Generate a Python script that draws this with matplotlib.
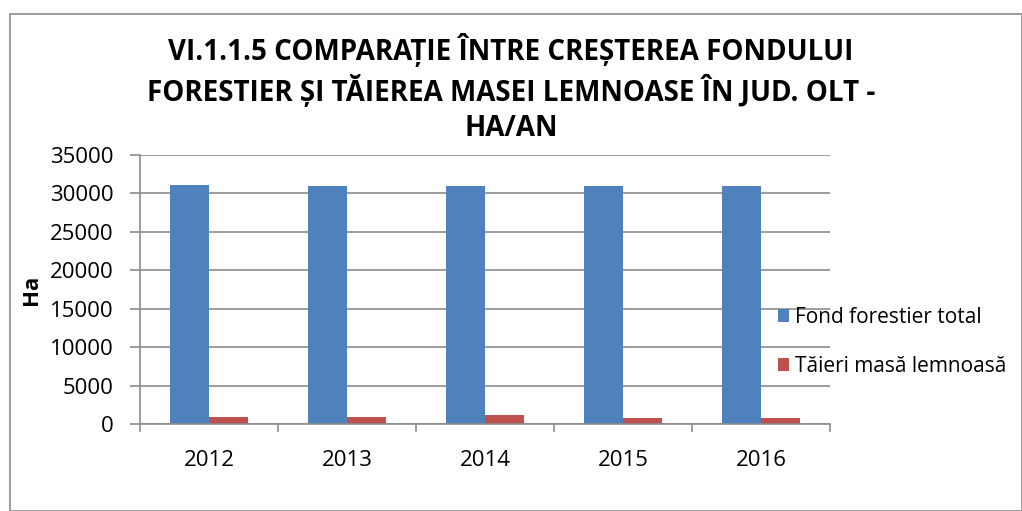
import matplotlib
matplotlib.use("Agg")
import matplotlib.pyplot as plt
import numpy as np
from matplotlib.patches import Rectangle

years = ["2012", "2013", "2014", "2015", "2016"]
fond_forestier = [31050, 30950, 30950, 30950, 30950]
taieri = [900, 880, 1150, 720, 800]
series_names = ["Fond forestier total", "Tăieri masă lemnoasă"]
title = "VI.1.1.5 COMPARAȚIE ÎNTRE CREȘTEREA FONDULUI\nFORESTIER ȘI TĂIEREA MASEI LEMNOASE ÎN JUD. OLT -\nHA/AN"

plt.rcParams['font.family'] = ['Open Sans', 'DejaVu Sans']

W, H = 1022, 511
fig = plt.figure(figsize=(W/100, H/100), dpi=100)
# chart border
fig.patches.append(Rectangle((10/W, 0), (W-10)/W - 0.5/W, (H-14)/H, transform=fig.transFigure,
                             fill=False, edgecolor='#8c8c8c', linewidth=1.2))

ax = fig.add_axes([140/W, 1-424/H, (830-140)/W, (424-155)/H])
x = np.arange(len(years))
bw = 1/3.5
ax.bar(x - bw/2, fond_forestier, width=bw, color='#4f81bd', label=series_names[0])
ax.bar(x + bw/2, taieri, width=bw, color='#c0504d', label=series_names[1])
ax.set_xlim(-0.5, len(years)-0.5)
ax.set_ylim(0, 35000)
ax.set_yticks(range(0, 35001, 5000))
ax.set_xticks(x)
ax.set_xticklabels(years)
ax.yaxis.grid(True, color='#8c8c8c', linewidth=1.2)
ax.set_axisbelow(True)
for s in ['top', 'right']:
    ax.spines[s].set_visible(False)
for s in ['left', 'bottom']:
    ax.spines[s].set_color('#8c8c8c')
    ax.spines[s].set_linewidth(1.2)
ax.set_xticks(np.arange(-0.5, len(years)), minor=True)
ax.tick_params(axis='x', which='major', length=0, labelsize=16, pad=19)
ax.tick_params(axis='x', which='minor', length=6, color='#8c8c8c', width=1.2)
ax.tick_params(axis='y', length=7, color='#8c8c8c', width=1.2, labelsize=16, pad=12)
ax.set_ylabel("Ha", fontsize=16, fontweight='bold', labelpad=6)

fig.text(0.5, 1-88/H, title, ha='center', va='center', fontsize=20, fontweight='bold',
         linespacing=1.3)

leg = ax.legend(loc='center left', bbox_to_anchor=(759/W, 1-342/H), bbox_transform=fig.transFigure,
                frameon=False, fontsize=15, handlelength=0.55, handleheight=0.55,
                handletextpad=0.3, labelspacing=1.35)

fig.savefig("out.png", dpi=100)
